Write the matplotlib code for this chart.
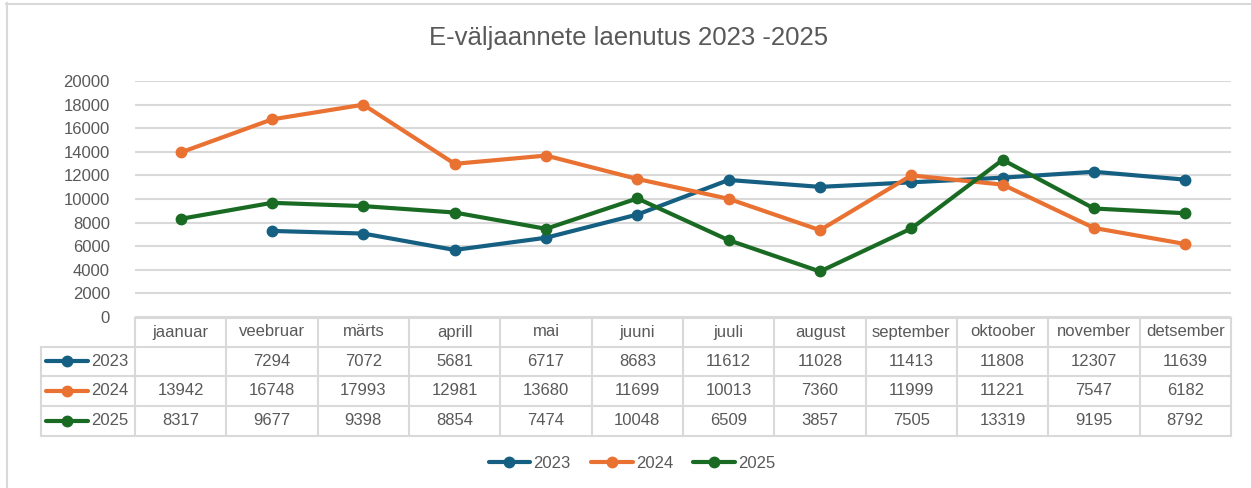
import numpy as np
import matplotlib
matplotlib.use("Agg")
import matplotlib.pyplot as plt
from matplotlib.lines import Line2D
from matplotlib.transforms import blended_transform_factory

months = ["jaanuar", "veebruar", "märts", "aprill", "mai", "juuni",
          "juuli", "august", "september", "oktoober", "november", "detsember"]
series_names = ["2023", "2024", "2025"]
v2023 = [np.nan, 7294, 7072, 5681, 6717, 8683, 11612, 11028, 11413, 11808, 12307, 11639]
v2024 = [13942, 16748, 17993, 12981, 13680, 11699, 10013, 7360, 11999, 11221, 7547, 6182]
v2025 = [8317, 9677, 9398, 8854, 7474, 10048, 6509, 3857, 7505, 13319, 9195, 8792]
yticks = list(range(0, 20001, 2000))
title = "E-väljaannete laenutus 2023 -2025"

colors = ["#156082", "#E97132", "#196B24"]
TXT = "#595959"
GRID = "#D9D9D9"
plt.rcParams["font.family"] = ["Liberation Sans", "DejaVu Sans"]

W, H = 1251, 488
fig = plt.figure(figsize=(W / 100, H / 100), dpi=100)
fig.patch.set_facecolor("white")

def fx(x): return x / W
def fy(y): return 1 - y / H

# chart border
fig.add_artist(Line2D([fx(6.5), fx(6.5)], [fy(3), fy(H)], color=GRID, lw=1.5, transform=fig.transFigure))
fig.add_artist(Line2D([fx(6), fx(W)], [fy(3.5), fy(3.5)], color=GRID, lw=1.5, transform=fig.transFigure))

L, R, T, B = 135, 1231, 81, 317
ax = fig.add_axes([fx(L), fy(B), (R - L) / W, (B - T) / H])
x = np.arange(len(months))
data = [v2023, v2024, v2025]
handles = []
for name, vals, c in zip(series_names, data, colors):
    h, = ax.plot(x, vals, color=c, lw=3, marker="o", ms=7.5, label=name,
                 solid_capstyle="round", zorder=3)
    handles.append(h)

ax.set_xlim(-0.5, len(months) - 0.5)
ax.set_ylim(0, 20000)
ax.set_yticks(yticks)
ax.set_yticklabels([str(t) for t in yticks], fontsize=12, color=TXT)
ax.tick_params(axis="y", length=0, pad=18)
ax.set_xticks([])
for s in ax.spines.values():
    s.set_visible(False)
ax.yaxis.grid(True, color=GRID, lw=1.5)
ax.set_axisbelow(True)

# title
fig.text(fx(629), fy(38), title, ha="center", va="center", fontsize=18.5, color=TXT)

# data table
tr = blended_transform_factory(ax.transData, fig.transFigure)
rows_y = [318, 346.5, 376, 405.5, 435.5]
for i, yy in enumerate(rows_y):
    x0 = -0.5 if i == 0 else None
    if i == 0:
        fig.add_artist(Line2D([-0.5, len(months) - 0.5], [fy(yy), fy(yy)], color=GRID, lw=1.5,
                              transform=tr))
    else:
        fig.add_artist(Line2D([fx(41), fx(R)], [fy(yy), fy(yy)], color=GRID, lw=1.5,
                              transform=fig.transFigure))
for k in range(len(months) + 1):
    fig.add_artist(Line2D([k - 0.5, k - 0.5], [fy(318), fy(435.5)], color=GRID, lw=1.5,
                          transform=tr))
fig.add_artist(Line2D([fx(41), fx(41)], [fy(346.5), fy(435.5)], color=GRID, lw=1.5,
                      transform=fig.transFigure))

for i, m in enumerate(months):
    fig.text(i, fy(332), m, transform=tr, ha="center", va="center", fontsize=12, color=TXT)

for r, (name, vals, c) in enumerate(zip(series_names, data, colors)):
    yc = (rows_y[r + 1] + rows_y[r + 2]) / 2
    fig.add_artist(Line2D([fx(46), fx(88)], [fy(yc), fy(yc)], color=c, lw=3,
                          solid_capstyle="round", transform=fig.transFigure))
    fig.add_artist(Line2D([fx(67)], [fy(yc)], color=c, marker="o", ms=7.5, lw=0,
                          transform=fig.transFigure))
    fig.text(fx(91), fy(yc), name, ha="left", va="center", fontsize=12, color=TXT)
    for i, v in enumerate(vals):
        if not np.isnan(v):
            fig.text(i, fy(yc), str(int(v)), transform=tr, ha="center", va="center",
                     fontsize=12, color=TXT)

# legend
fig.legend(handles=handles, labels=series_names, loc="center", bbox_to_anchor=(fx(632), fy(463)),
           ncol=3, frameon=False, fontsize=12, handlelength=2.5, handletextpad=0.2,
           columnspacing=1.2, labelcolor=TXT)

fig.savefig("out.png", dpi=100, facecolor="white")
